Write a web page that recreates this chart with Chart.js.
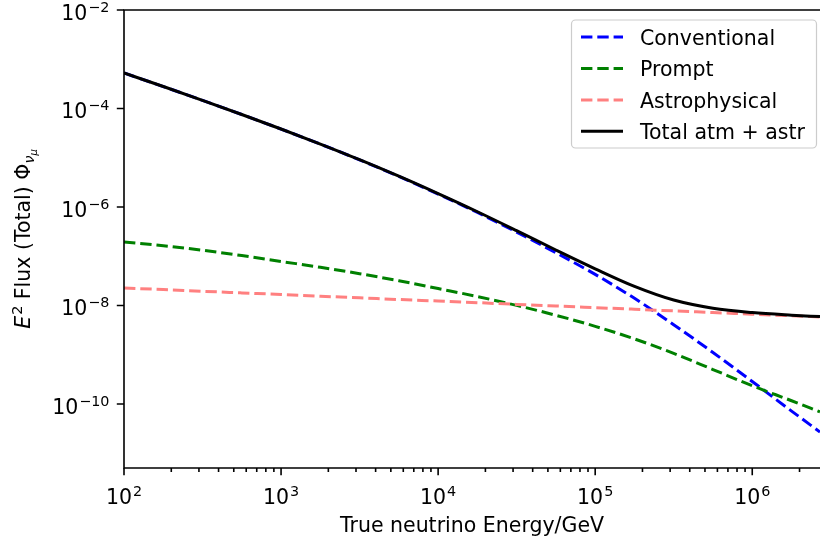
<!DOCTYPE html>
<html>
<head>
<meta charset="utf-8">
<script src="https://cdn.jsdelivr.net/npm/chart.js@4.4.0/dist/chart.umd.min.js"></script>
<style>
  html, body { margin: 0; padding: 0; background: #fff; }
  #wrap { width: 820px; height: 543px; }
</style>
</head>
<body>
<div id="wrap"><canvas id="flux" width="820" height="543"></canvas></div>
<script>
// energies (GeV), quarter decades
var energy = [1e2, 1.78e2, 3.16e2, 5.62e2, 1e3, 1.78e3, 3.16e3, 5.62e3, 1e4, 1.78e4,
              3.16e4, 5.62e4, 1e5, 1.78e5, 3.16e5, 5.62e5, 1e6, 1.78e6, 2.7e6];

// E^2 flux
var convFlux   = [5.25e-4, 2.786e-4, 1.462e-4, 7.55e-5, 3.82e-5, 1.888e-5, 9.06e-6, 4.17e-6, 1.832e-6, 7.73e-7,
                  3.09e-7, 1.175e-7, 4.27e-8, 1.396e-8, 4.07e-9, 1.109e-9, 2.85e-10, 7.16e-11, 2.69e-11];
var promptFlux = [1.945e-7, 1.633e-7, 1.321e-7, 1.03e-7, 7.82e-8, 5.96e-8, 4.42e-8, 3.18e-8, 2.2e-8, 1.517e-8,
                  1.002e-8, 6.32e-9, 3.77e-9, 2.09e-9, 1.064e-9, 5.0e-10, 2.34e-10, 1.161e-10, 6.92e-11];
var astroFlux  = [2.26e-8, 2.10e-8, 1.94e-8, 1.80e-8, 1.67e-8, 1.54e-8, 1.43e-8, 1.32e-8, 1.23e-8, 1.14e-8,
                  1.05e-8, 9.75e-9, 9.03e-9, 8.37e-9, 7.75e-9, 7.18e-9, 6.65e-9, 6.16e-9, 5.83e-9];
var totalFlux  = [5.25e-4, 2.79e-4, 1.462e-4, 7.55e-5, 3.83e-5, 1.896e-5, 9.12e-6, 4.21e-6, 1.866e-6, 7.99e-7,
                  3.30e-7, 1.336e-7, 5.55e-8, 2.44e-8, 1.288e-8, 8.79e-9, 7.17e-9, 6.35e-9, 5.93e-9];

var seriesNames = ['Conventional', 'Prompt', 'Astrophysical', 'Total atm + astr'];
var xTickExp = [2, 3, 4, 5, 6];
var yTickExp = [-2, -4, -6, -8, -10];

var FONT = '"DejaVu Sans", sans-serif';
var FS = 20.5, FS_SUP = 14.35;

function pts(ys) {
  return energy.map(function (e, i) { return { x: e, y: ys[i] }; });
}

// draws 10^exp like matplotlib mathtext
function drawPow(ctx, exp, x, y, align) {
  var sup = (exp < 0 ? '\u2212' : '') + Math.abs(exp);
  ctx.font = FS + 'px ' + FONT;
  var wb = ctx.measureText('10').width;
  ctx.font = FS_SUP + 'px ' + FONT;
  var ws = ctx.measureText(sup).width;
  var w = wb + 1 + ws;
  var x0 = align === 'right' ? x - w : x - w / 2;
  ctx.textAlign = 'left';
  ctx.textBaseline = 'alphabetic';
  ctx.font = FS + 'px ' + FONT;
  ctx.fillText('10', x0, y);
  ctx.font = FS_SUP + 'px ' + FONT;
  ctx.fillText(sup, x0 + wb + 1, y - 8);
}

var mplAxes = {
  id: 'mplAxes',
  afterDraw: function (chart) {
    var ctx = chart.ctx, a = chart.chartArea;
    var xs = chart.scales.x, ys = chart.scales.y;
    ctx.save();
    ctx.strokeStyle = '#000';
    ctx.fillStyle = '#000';
    ctx.lineWidth = 1.6;

    // spines (right one is cut off)
    ctx.beginPath();
    ctx.moveTo(a.right, a.top); ctx.lineTo(a.left, a.top);
    ctx.lineTo(a.left, a.bottom); ctx.lineTo(a.right, a.bottom);
    ctx.stroke();

    // x ticks
    ctx.beginPath();
    for (var d = 2; d <= 6; d++) {
      for (var m = 1; m <= 9; m++) {
        var v = m * Math.pow(10, d);
        if (v > xs.max) break;
        var px = xs.getPixelForValue(v);
        ctx.moveTo(px, a.bottom);
        ctx.lineTo(px, a.bottom + (m === 1 ? 7.2 : 4.1));
      }
    }
    // y ticks
    yTickExp.forEach(function (e) {
      var py = ys.getPixelForValue(Math.pow(10, e));
      ctx.moveTo(a.left, py);
      ctx.lineTo(a.left - 7.2, py);
    });
    ctx.stroke();

    xTickExp.forEach(function (e) {
      drawPow(ctx, e, xs.getPixelForValue(Math.pow(10, e)), 504, 'center');
    });
    yTickExp.forEach(function (e) {
      drawPow(ctx, e, 109.5, ys.getPixelForValue(Math.pow(10, e)) + 10, 'right');
    });

    // y title: E^2 Flux (Total) Phi_{nu_mu}
    var parts = [
      { t: 'E', f: 'italic ' + FS + 'px ' + FONT, dy: 0 },
      { t: '2', f: FS_SUP + 'px ' + FONT, dy: -8, gap: 1 },
      { t: ' Flux (Total) \u03A6', f: FS + 'px ' + FONT, dy: 0 },
      { t: '\u03BD', f: 'italic ' + FS_SUP + 'px ' + FONT, dy: 4 },
      { t: '\u03BC', f: 'italic 10px ' + FONT, dy: 7 }
    ];
    var total = 0;
    parts.forEach(function (p) {
      ctx.font = p.f;
      p.w = ctx.measureText(p.t).width + (p.gap || 0);
      total += p.w;
    });
    ctx.translate(30, (a.top + a.bottom) / 2);
    ctx.rotate(-Math.PI / 2);
    ctx.textAlign = 'left';
    ctx.textBaseline = 'alphabetic';
    var cx = -total / 2;
    parts.forEach(function (p) {
      ctx.font = p.f;
      ctx.fillText(p.t, cx + (p.gap || 0), p.dy);
      cx += p.w;
    });
    ctx.restore();

    // legend box
    ctx.save();
    var bx = 571.5, by = 20, bw = 245, bh = 128;
    ctx.beginPath();
    ctx.roundRect(bx, by, bw, bh, 4);
    ctx.fillStyle = 'rgba(255,255,255,0.8)';
    ctx.fill();
    ctx.strokeStyle = '#cccccc';
    ctx.lineWidth = 1.2;
    ctx.stroke();
    var rows = [37, 68.5, 100, 131.2];
    chart.data.datasets.forEach(function (ds, i) {
      ctx.beginPath();
      ctx.strokeStyle = ds.borderColor;
      ctx.lineWidth = ds.borderWidth;
      ctx.setLineDash(ds.borderDash || []);
      ctx.moveTo(581, rows[i]);
      ctx.lineTo(623, rows[i]);
      ctx.stroke();
      ctx.setLineDash([]);
      ctx.fillStyle = '#000';
      ctx.font = FS + 'px ' + FONT;
      ctx.textAlign = 'left';
      ctx.textBaseline = 'middle';
      ctx.fillText(ds.label, 640, rows[i] + 2.5);
    });
    ctx.restore();
  }
};

var DASH = [11.4, 4.9];

new Chart(document.getElementById('flux'), {
  type: 'line',
  data: {
    datasets: [{
      label: seriesNames[0],
      data: pts(convFlux),
      borderColor: '#0000ff',
      borderWidth: 3,
      borderDash: DASH,
      order: 4
    }, {
      label: seriesNames[1],
      data: pts(promptFlux),
      borderColor: '#008000',
      borderWidth: 3,
      borderDash: DASH,
      order: 3
    }, {
      label: seriesNames[2],
      data: pts(astroFlux),
      borderColor: '#ff8080',
      borderWidth: 3,
      borderDash: DASH,
      order: 2
    }, {
      label: seriesNames[3],
      data: pts(totalFlux),
      borderColor: '#000000',
      borderWidth: 3,
      order: 1
    }]
  },
  options: {
    responsive: false,
    animation: false,
    devicePixelRatio: 1,
    layout: { padding: { left: 0, top: 10, right: 0, bottom: 0 }, autoPadding: false },
    elements: {
      point: { radius: 0 },
      line: { cubicInterpolationMode: 'monotone', fill: false }
    },
    plugins: {
      legend: { display: false },
      tooltip: { enabled: false }
    },
    scales: {
      x: {
        type: 'logarithmic',
        min: 100,
        max: 2.7e6,
        grid: { display: false },
        border: { display: false },
        ticks: { display: false },
        title: {
          display: true,
          text: 'True neutrino Energy/GeV',
          color: '#000',
          font: { family: FONT, size: FS },
          padding: { top: 0, bottom: 4 }
        },
        afterFit: function (s) { s.height = 75; }
      },
      y: {
        type: 'logarithmic',
        min: 5e-12,
        max: 1e-2,
        grid: { display: false },
        border: { display: false },
        ticks: { display: false },
        afterFit: function (s) { s.width = 124; }
      }
    }
  },
  plugins: [mplAxes]
});
</script>
</body>
</html>
